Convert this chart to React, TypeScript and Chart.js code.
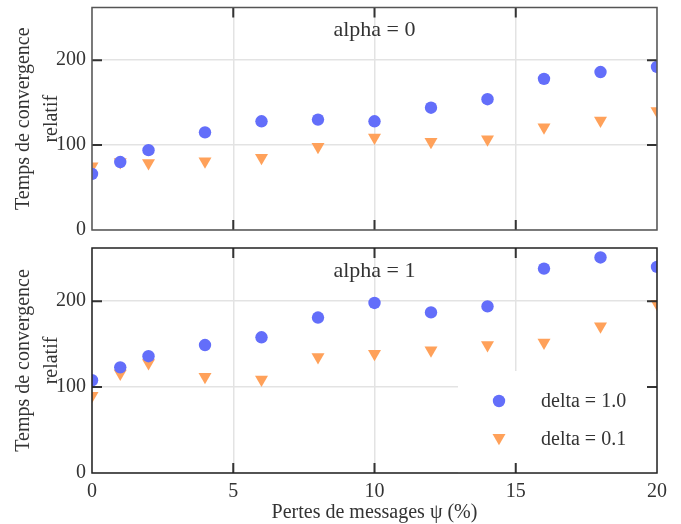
import React, { useEffect, useRef } from 'react';
import { Chart, registerables } from 'chart.js';

Chart.register(...registerables);

const xValues = [0, 1, 2, 4, 6, 8, 10, 12, 14, 16, 18, 20];
const alpha0Delta10 = [66, 80, 94, 115, 128, 130, 128, 144, 154, 178, 186, 192];
const alpha0Delta01 = [75, 80, 79, 81, 85, 98, 109, 104, 107, 121, 129, 140];
const alpha1Delta10 = [108, 123, 136, 149, 158, 181, 198, 187, 194, 238, 251, 240];
const alpha1Delta01 = [90, 116, 128, 112, 109, 135, 139, 143, 149, 152, 171, 197];
const xTicks = [0, 5, 10, 15, 20];
const yTicks = [0, 100, 200];
const seriesLabels = ['delta = 1.0', 'delta = 0.1'];
const panelLabels = ['alpha = 0', 'alpha = 1'];
const yTitle = ['Temps de convergence', 'relatif'];
const xTitle = 'Pertes de messages ψ (%)';

const FONT = 'Liberation Serif';
const TEXT = '#333';
const BLUE = '#636efa';
const ORANGE = '#ffa15a';
const GRID = '#e3e3e3';

function makePlugin(panel: number) {
  return {
    id: 'panelDecor' + panel,
    afterDatasetsDraw(chart: any) {
      const { ctx, chartArea: a } = chart;
      if (panel === 1) {
        ctx.save();
        ctx.fillStyle = '#fff';
        ctx.fillRect(a.right - 199, a.bottom - 102, 199, 102);
        chart.data.datasets.forEach((ds: any, i: number) => {
          const x = a.right - 158;
          const y = a.bottom - 72 + i * 38;
          ctx.fillStyle = ds.backgroundColor;
          ctx.beginPath();
          if (ds.pointStyle === 'circle') {
            ctx.arc(x, y, ds.pointRadius, 0, Math.PI * 2);
          } else {
            const r = ds.pointRadius;
            const w = r * Math.sqrt(3) / 2;
            ctx.moveTo(x - w, y - r * 0.75 + 0.5);
            ctx.lineTo(x + w, y - r * 0.75 + 0.5);
            ctx.lineTo(x, y + r * 0.75 + 0.5);
            ctx.closePath();
          }
          ctx.fill();
          ctx.fillStyle = TEXT;
          ctx.font = `20px "${FONT}"`;
          ctx.textAlign = 'left';
          ctx.textBaseline = 'middle';
          ctx.fillText(ds.label, a.right - 116, y + 1);
        });
        ctx.restore();
      }
    },
    afterDraw(chart: any) {
      const { ctx, chartArea: a, scales } = chart;
      const xs = scales.x;
      const ys = scales.y;
      ctx.save();
      ctx.fillStyle = TEXT;
      ctx.font = `22px "${FONT}"`;
      ctx.textAlign = 'center';
      ctx.textBaseline = 'middle';
      ctx.fillText(panelLabels[panel], xs.getPixelForValue(10), a.top + 23);
      ctx.strokeStyle = '#333';
      ctx.lineWidth = 2;
      ctx.beginPath();
      xTicks.slice(1, -1).forEach((v) => {
        const px = xs.getPixelForValue(v);
        ctx.moveTo(px, a.top);
        ctx.lineTo(px, a.top + 10);
        ctx.moveTo(px, a.bottom);
        ctx.lineTo(px, a.bottom - 10);
      });
      yTicks.slice(1).forEach((v) => {
        const py = ys.getPixelForValue(v);
        ctx.moveTo(a.left, py);
        ctx.lineTo(a.left + 10, py);
        ctx.moveTo(a.right, py);
        ctx.lineTo(a.right - 10, py);
      });
      ctx.stroke();
      ctx.strokeStyle = panel === 0 ? '#555' : '#222';
      ctx.lineWidth = 1.5;
      ctx.strokeRect(a.left, a.top, a.width, a.height);
      ctx.restore();
    },
  };
}

function makeConfig(panel: number): any {
  const isBottom = panel === 1;
  const blue = panel === 0 ? alpha0Delta10 : alpha1Delta10;
  const orange = panel === 0 ? alpha0Delta01 : alpha1Delta01;
  return {
    type: 'scatter',
    data: {
      datasets: [
        {
          label: seriesLabels[0],
          data: xValues.map((x, i) => ({ x, y: blue[i] })),
          pointStyle: 'circle',
          pointRadius: 6.2,
          backgroundColor: BLUE,
          borderWidth: 0,
        },
        {
          label: seriesLabels[1],
          data: xValues.map((x, i) => ({ x, y: orange[i] })),
          pointStyle: 'triangle',
          rotation: 180,
          pointRadius: 7.5,
          backgroundColor: ORANGE,
          borderWidth: 0,
        },
      ],
    },
    options: {
      animation: false,
      responsive: false,
      events: [],
      layout: { padding: { left: 0, right: 24, top: isBottom ? 8 : 5, bottom: 0 } },
      plugins: { legend: { display: false }, tooltip: { enabled: false } },
      scales: {
        x: {
          type: 'linear',
          min: 0,
          max: 20,
          afterBuildTicks: (s: any) => {
            s.ticks = xTicks.map((v) => ({ value: v }));
          },
          afterFit: (s: any) => {
            s.height = isBottom ? 51 : 10;
            s.paddingLeft = 0;
            s.paddingRight = 0;
          },
          grid: { color: GRID, lineWidth: 1.5, drawTicks: false },
          border: { display: false },
          ticks: {
            display: isBottom,
            padding: 7,
            color: TEXT,
            maxRotation: 0,
            font: { family: FONT, size: 20 },
          },
          title: {
            display: isBottom,
            text: xTitle,
            color: TEXT,
            font: { family: FONT, size: 20, lineHeight: 1.1 },
            padding: { top: 0, bottom: 0 },
          },
        },
        y: {
          type: 'linear',
          min: 0,
          max: 262,
          afterBuildTicks: (s: any) => {
            s.ticks = yTicks.map((v) => ({ value: v }));
          },
          afterFit: (s: any) => {
            s.width = 92;
            s.paddingTop = 0;
            s.paddingBottom = 0;
          },
          grid: { color: GRID, lineWidth: 1.5, drawTicks: false },
          border: { display: false },
          ticks: {
            padding: 6,
            color: TEXT,
            font: { family: FONT, size: 20 },
          },
          title: {
            display: true,
            text: yTitle,
            color: TEXT,
            font: { family: FONT, size: 20, lineHeight: 1.4 },
            padding: { top: 10, bottom: 0 },
          },
        },
      },
    },
    plugins: [makePlugin(panel)],
  };
}

function Panel({ panel, top, height }: { panel: number; top: number; height: number }) {
  const ref = useRef<HTMLCanvasElement | null>(null);
  useEffect(() => {
    if (!ref.current) return;
    const chart = new Chart(ref.current, makeConfig(panel));
    return () => chart.destroy();
  }, [panel]);
  return (
    <canvas
      ref={ref}
      width={681}
      height={height}
      style={{ position: 'absolute', left: 0, top, width: 681, height, display: 'block' }}
    />
  );
}

export default function App() {
  return (
    <div style={{ position: 'fixed', left: 0, top: 0, width: 681, height: 524, background: '#fff' }}>
      <Panel panel={0} top={0} height={240} />
      <Panel panel={1} top={240} height={284} />
    </div>
  );
}
